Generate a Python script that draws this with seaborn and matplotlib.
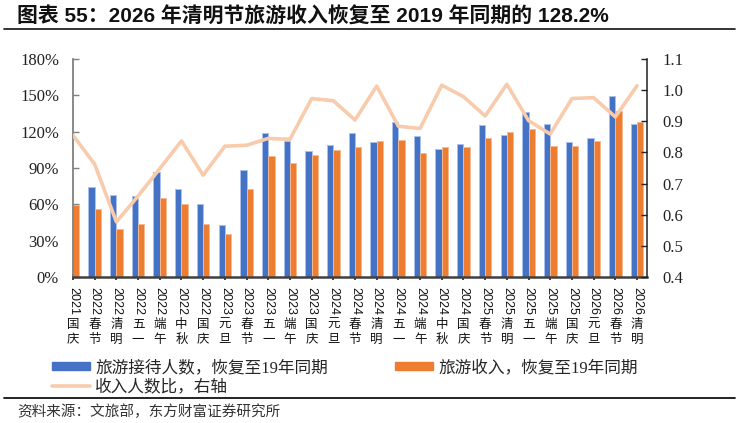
import numpy as np
import pandas as pd
import matplotlib
matplotlib.use("Agg")
import matplotlib.pyplot as plt
import seaborn as sns
from matplotlib.lines import Line2D
from matplotlib.patches import Patch
from matplotlib.font_manager import FontProperties
from matplotlib.ticker import FuncFormatter, MultipleLocator

# ---------------- data ----------------
years = ["2021", "2022", "2022", "2022", "2022", "2022", "2022", "2023", "2023",
         "2023", "2023", "2023", "2024", "2024", "2024", "2024", "2024", "2024",
         "2024", "2025", "2025", "2025", "2025", "2025", "2026", "2026", "2026"]
holidays = ["国庆", "春节", "清明", "五一", "端午", "中秋", "国庆", "元旦", "春节",
            "五一", "端午", "国庆", "元旦", "春节", "清明", "五一", "端午", "中秋",
            "国庆", "春节", "清明", "五一", "端午", "国庆", "元旦", "春节", "清明"]
visitors = [np.nan, 73.9, 67.9, 66.5, 86.6, 72.5, 60.5, 42.9, 88.5, 119.0, 112.5,
            104.1, 109.1, 119.0, 111.3, 128.3, 116.8, 106.1, 109.9, 125.6, 117.6,
            136.3, 126.4, 111.6, 114.9, 149.5, 126.4]
revenue = [59.6, 56.1, 39.3, 44.0, 65.4, 60.5, 44.0, 35.2, 72.8, 100.3, 94.5,
           101.1, 105.2, 107.4, 112.4, 113.2, 102.2, 107.7, 107.7, 114.9, 120.1,
           122.3, 108.5, 108.5, 112.1, 137.0, 128.2]
ratio = [0.855, 0.762, 0.577, 0.660, 0.748, 0.837, 0.727, 0.820, 0.823, 0.845,
         0.842, 0.973, 0.966, 0.904, 1.013, 0.884, 0.877, 1.016, 0.979, 0.917,
         1.019, 0.902, 0.859, 0.973, 0.976, 0.914, 1.014]

s_vis = "旅游接待人数，恢复至19年同期"
s_rev = "旅游收入，恢复至19年同期"
s_ratio = "收入人数比，右轴"
title = "图表 55：2026 年清明节旅游收入恢复至 2019 年同期的 128.2%"
source = "资料来源：文旅部，东方财富证券研究所"

categories = [y + h for y, h in zip(years, holidays)]
df = pd.DataFrame({
    "cat": categories * 2,
    "val": visitors + revenue,
    "series": [s_vis] * len(categories) + [s_rev] * len(categories),
})
df_line = pd.DataFrame({"x": np.arange(len(categories)), "ratio": ratio})

BLUE = "#4472C4"
ORANGE = "#ED7D31"
PEACH = "#F8CBAD"

sns.set_theme(style="white")
plt.rcParams["font.family"] = ["Liberation Serif", "Noto Sans CJK SC", "DejaVu Sans"]

W, H = 737, 423
fig = plt.figure(figsize=(W / 100, H / 100), dpi=100)
ax = fig.add_axes([73 / W, 1 - 277 / H, 574 / W, 218 / H])

sns.barplot(data=df, x="cat", y="val", hue="series", order=categories,
            hue_order=[s_vis, s_rev], palette=[BLUE, ORANGE], width=0.58,
            errorbar=None, ax=ax, legend=False, saturation=1)
for p in ax.patches:
    c = p.get_facecolor()
    if abs(c[2] - 0.77) < 0.05:
        p.set_edgecolor("#A9C1EC")
    else:
        p.set_edgecolor("#F6B992")
    p.set_linewidth(0.7)

ax2 = ax.twinx()
sns.lineplot(data=df_line, x="x", y="ratio", color=PEACH, lw=2.6, ax=ax2,
             legend=False)

ax.set_xlim(0, 26.46)
ax.set_ylim(0, 180)
ax.yaxis.set_major_locator(MultipleLocator(30))
ax.yaxis.set_major_formatter(FuncFormatter(lambda v, _: f"{v:.0f}%"))
ax2.set_ylim(0.4, 1.1)
ax2.yaxis.set_major_locator(MultipleLocator(0.1))
ax2.yaxis.set_major_formatter(FuncFormatter(lambda v, _: f"{v:.1f}"))
ax2.set_xlim(0, 26.46)

for a in (ax, ax2):
    a.set_xlabel("")
    a.set_ylabel("")
    a.spines["top"].set_visible(False)
    a.grid(False)

ax.spines["left"].set_color("#808080")
ax.spines["left"].set_linewidth(1.3)
ax.spines["bottom"].set_color("#404040")
ax.spines["bottom"].set_linewidth(1.8)
ax.spines["right"].set_visible(False)
ax2.spines["left"].set_visible(False)
ax2.spines["bottom"].set_visible(False)
ax2.spines["right"].set_color("#222222")
ax2.spines["right"].set_linewidth(1.1)

ax.tick_params(axis="y", direction="in", length=4, width=1, color="#808080",
               labelsize=12, pad=10, labelcolor="#222222")
ax2.tick_params(axis="y", direction="in", length=4, width=1, color="#222222",
                labelsize=12, pad=11, labelcolor="#222222")
ax.set_xticks(range(len(categories)))
ax.set_xticklabels([""] * len(categories))
ax.tick_params(axis="x", direction="inout", length=5, width=1.2, color="#222222",
               bottom=True)
ax2.tick_params(axis="x", bottom=False, labelbottom=False)

for lab in ax.get_yticklabels() + ax2.get_yticklabels():
    lab.set_fontfamily(["Liberation Serif"])

# stacked category labels: rotated year + upright Chinese characters
for i, (y, h) in enumerate(zip(years, holidays)):
    ax.annotate(y, xy=(i, 0), xycoords=("data", "axes fraction"),
                xytext=(0, -10), textcoords="offset pixels", rotation=270,
                ha="center", va="top", fontsize=9, family=["Liberation Sans"],
                color="#111111", annotation_clip=False)
    ax.annotate("\n".join(h), xy=(i, 0), xycoords=("data", "axes fraction"),
                xytext=(0, -41), textcoords="offset pixels", ha="center",
                va="top", fontsize=9, linespacing=1.2,
                family=["Noto Sans CJK SC"], color="#111111",
                annotation_clip=False)

# legend
handles = [Patch(facecolor=BLUE, edgecolor=BLUE),
           Line2D([0], [0], color=PEACH, lw=2.6),
           Patch(facecolor=ORANGE, edgecolor=ORANGE)]
labels = [s_vis, s_ratio, s_rev]
fig.legend(handles, labels, loc="upper left", bbox_to_anchor=(52 / W, 1 - 360 / H),
           ncol=2, frameon=False, borderpad=0, borderaxespad=0,
           handlelength=2.3, handleheight=0.4, handletextpad=0.3,
           labelspacing=0.2, columnspacing=4.0,
           prop=FontProperties(family=["Liberation Serif", "Noto Sans CJK SC"], size=12))

# title, rules, source
fig.text(17 / W, 1 - 17 / H, title, fontsize=15, fontweight="bold", va="center",
         ha="left", family=["Liberation Sans", "Noto Sans CJK SC"], color="#111111")
fig.add_artist(Line2D([4 / W, 735 / W], [1 - 29 / H, 1 - 29 / H],
                      color="#111111", lw=1.2, transform=fig.transFigure))
fig.add_artist(Line2D([4 / W, 735 / W], [1 - 398 / H, 1 - 398 / H],
                      color="#111111", lw=1.3, transform=fig.transFigure))
fig.text(17 / W, 1 - 412 / H, source, fontsize=10.5, va="center", ha="left",
         family=["Noto Sans CJK SC"], color="#333333")

fig.savefig("out.png", dpi=100)
